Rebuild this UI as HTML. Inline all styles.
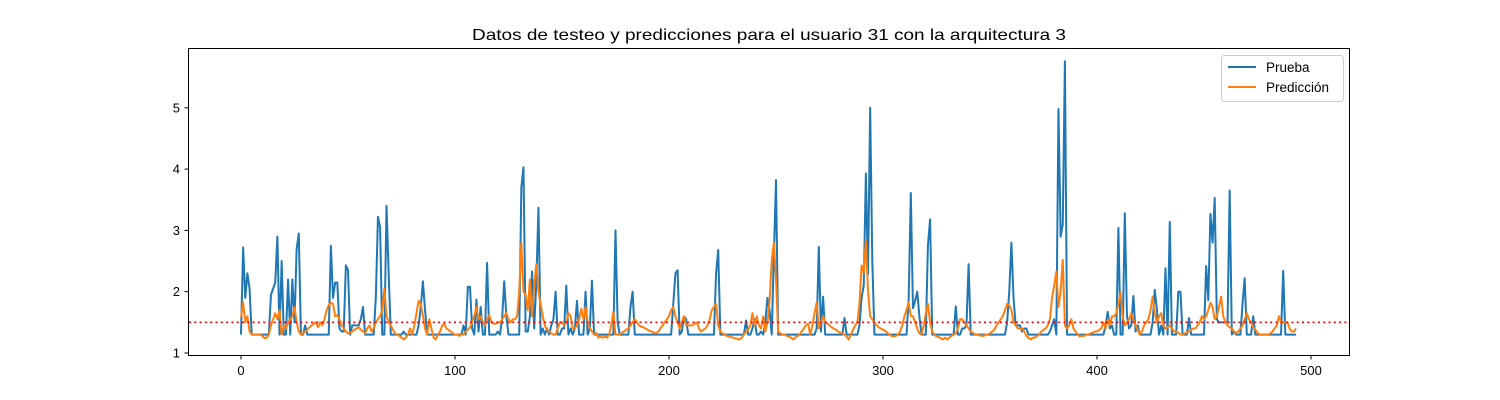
<!DOCTYPE html>
<html><head><meta charset="utf-8"><style>
body{margin:0;background:#fff;}
svg{display:block;font-family:"Liberation Sans","DejaVu Sans",sans-serif;}
</style></head><body>
<svg id="chart" width="1500" height="400" viewBox="0 0 1500 400">
<rect x="0" y="0" width="1500" height="400" fill="#fff"/>
<text x="769" y="40" text-anchor="middle" font-size="16" textLength="594" lengthAdjust="spacingAndGlyphs">Datos de testeo y predicciones para el usuario 31 con la arquitectura 3</text>
<g id="plot"></g>
<rect x="188.5" y="48.5" width="1161" height="307" fill="none" stroke="#000" stroke-width="1"/>
<g id="xticks"></g>
<g id="yticks"></g>
<g>
<rect x="1221.5" y="55.5" width="122" height="46" rx="3" fill="#fff" fill-opacity="0.8" stroke="#ccc"/>
<line x1="1228" y1="67" x2="1256" y2="67" stroke="#1f77b4" stroke-width="2"/>
<text x="1266" y="72" font-size="13.5">Prueba</text>
<line x1="1228" y1="87" x2="1256" y2="87" stroke="#ff7f0e" stroke-width="2"/>
<text x="1266" y="92" font-size="13.5">Predicción</text>
</g>
</svg>
<script>
const xTicks=[0,100,200,300,400,500];
const yTicks=[1,2,3,4,5];
const threshold=1.5;
const prueba=[
1.3,2.72,1.9,2.3,2.05,1.3,1.3,1.3,1.3,1.3,
1.3,1.3,1.3,1.3,1.95,2.05,2.15,2.9,1.3,2.5,
1.3,1.3,2.2,1.3,2.2,1.5,2.7,2.95,1.3,1.3,
1.45,1.3,1.3,1.3,1.3,1.3,1.3,1.3,1.3,1.3,
1.3,1.3,2.75,1.9,2.15,2.15,1.4,1.35,1.35,2.43,
2.35,1.3,1.45,1.45,1.45,1.45,1.55,1.75,1.3,1.3,
1.3,1.3,1.3,1.9,3.22,3.05,1.3,1.3,3.4,2.3,
1.3,1.3,1.3,1.3,1.3,1.3,1.35,1.3,1.3,1.3,
1.3,1.3,1.3,1.45,1.75,2.17,1.7,1.3,1.3,1.3,
1.3,1.3,1.3,1.3,1.3,1.3,1.3,1.3,1.3,1.3,
1.3,1.3,1.3,1.3,1.45,1.3,2.08,2.08,1.4,1.3,
1.87,1.35,1.75,1.3,1.3,2.47,1.3,1.3,1.3,1.3,
1.35,1.3,1.55,2.17,1.6,1.3,1.3,1.3,1.3,1.3,
1.3,3.7,4.03,1.35,1.35,1.6,2.33,1.4,2.15,3.37,
1.3,1.4,1.3,1.4,1.3,1.45,1.55,2.0,1.3,1.3,
1.4,1.4,2.1,1.3,1.4,1.3,1.4,1.85,1.3,1.3,
1.3,2.0,1.3,1.4,2.18,1.3,1.3,1.3,1.3,1.3,
1.3,1.3,1.3,1.3,1.3,3.0,1.5,1.3,1.3,1.3,
1.3,1.3,1.75,2.0,1.3,1.3,1.3,1.3,1.3,1.3,
1.3,1.3,1.3,1.3,1.3,1.3,1.3,1.3,1.3,1.3,
1.3,1.3,1.8,2.3,2.35,1.3,1.35,1.6,1.55,1.3,
1.3,1.3,1.3,1.3,1.3,1.3,1.3,1.3,1.3,1.3,
1.3,1.3,2.3,2.68,1.3,1.3,1.3,1.3,1.3,1.3,
1.3,1.3,1.3,1.3,1.3,1.3,1.53,1.3,1.3,1.4,
1.55,1.3,1.3,1.35,1.3,1.5,1.9,1.7,1.3,2.6,
3.82,1.3,1.3,1.3,1.3,1.3,1.3,1.3,1.3,1.3,
1.3,1.3,1.3,1.3,1.3,1.3,1.3,1.3,1.3,1.4,
2.73,1.35,1.92,1.3,1.3,1.3,1.3,1.3,1.3,1.3,
1.3,1.3,1.57,1.3,1.3,1.3,1.3,1.3,1.3,1.45,
1.9,2.1,3.93,2.28,5.0,2.5,1.3,1.3,1.3,1.3,
1.3,1.3,1.3,1.3,1.3,1.3,1.3,1.3,1.3,1.3,
1.3,1.3,1.9,3.61,1.73,1.85,2.0,1.6,1.3,1.3,
1.3,2.76,3.18,1.3,1.3,1.3,1.3,1.3,1.3,1.3,
1.3,1.3,1.3,1.3,1.76,1.3,1.3,1.4,1.4,1.45,
2.45,1.3,1.3,1.3,1.3,1.3,1.3,1.3,1.3,1.3,
1.3,1.3,1.3,1.3,1.3,1.3,1.3,1.3,1.5,2.0,
2.8,1.9,1.45,1.45,1.45,1.35,1.4,1.4,1.3,1.3,
1.3,1.3,1.3,1.3,1.3,1.3,1.3,1.3,1.35,1.45,
1.55,1.3,4.98,2.9,3.1,5.76,1.3,1.3,1.3,1.3,
1.3,1.3,1.3,1.3,1.3,1.3,1.3,1.3,1.3,1.3,
1.3,1.3,1.3,1.3,1.45,1.67,1.4,1.45,1.3,1.3,
3.04,1.3,1.3,3.28,1.6,1.4,1.45,1.93,1.35,1.45,
1.3,1.3,1.3,1.3,1.3,1.3,1.5,2.03,1.7,1.3,
1.45,1.3,2.38,1.3,3.14,1.3,1.3,1.3,2.0,2.0,
1.3,1.3,1.3,1.57,1.3,1.3,1.3,1.3,1.3,1.3,
1.3,2.42,1.86,3.27,2.8,3.53,1.55,1.5,1.5,1.5,
1.5,1.5,3.65,1.3,1.35,1.3,1.3,1.3,1.8,2.22,
1.3,1.3,1.3,1.6,1.3,1.3,1.3,1.3,1.3,1.3,
1.3,1.3,1.3,1.3,1.3,1.3,1.3,2.34,1.3,1.3,
1.3,1.3,1.3,1.3];
const prediccion=[
1.58,1.82,1.5,1.6,1.35,1.3,1.3,1.3,1.3,1.3,
1.28,1.24,1.25,1.3,1.45,1.55,1.65,1.55,1.7,1.3,
1.45,1.4,1.5,1.55,1.6,1.75,1.5,1.35,1.3,1.32,
1.35,1.38,1.42,1.45,1.48,1.5,1.42,1.5,1.45,1.55,
1.7,1.78,1.82,1.8,1.6,1.62,1.55,1.45,1.4,1.35,
1.32,1.33,1.35,1.38,1.4,1.42,1.38,1.35,1.32,1.4,
1.45,1.35,1.4,1.5,1.55,1.6,1.7,2.05,1.6,1.5,
1.45,1.38,1.32,1.3,1.28,1.25,1.22,1.25,1.3,1.4,
1.3,1.45,1.65,1.85,1.8,1.6,1.4,1.3,1.55,1.4,
1.25,1.22,1.3,1.35,1.45,1.48,1.4,1.38,1.35,1.32,
1.3,1.3,1.28,1.3,1.3,1.35,1.38,1.42,1.5,1.6,
1.75,1.55,1.6,1.5,1.45,1.55,1.62,1.5,1.48,1.48,
1.5,1.5,1.55,1.6,1.65,1.55,1.5,1.55,1.55,1.6,
2.0,2.8,2.0,1.95,1.7,2.2,1.6,2.1,2.45,2.0,
1.8,1.6,1.45,1.38,1.35,1.32,1.3,1.3,1.4,1.5,
1.5,1.45,1.5,1.65,1.6,1.4,1.4,1.45,1.55,1.72,
1.55,1.75,1.5,1.4,1.35,1.3,1.33,1.25,1.27,1.25,
1.27,1.25,1.3,1.45,1.67,1.3,1.3,1.3,1.33,1.35,
1.38,1.4,1.45,1.5,1.55,1.5,1.45,1.43,1.42,1.4,
1.38,1.36,1.35,1.33,1.32,1.35,1.4,1.45,1.5,1.55,
1.6,1.7,1.75,1.6,1.5,1.4,1.5,1.6,1.45,1.45,
1.45,1.45,1.48,1.5,1.4,1.35,1.38,1.4,1.45,1.55,
1.7,1.75,1.8,1.45,1.35,1.32,1.3,1.28,1.27,1.26,
1.25,1.24,1.23,1.22,1.25,1.3,1.35,1.38,1.45,1.65,
1.45,1.6,1.45,1.4,1.6,1.35,1.5,1.85,2.5,2.8,
2.2,1.35,1.32,1.3,1.3,1.28,1.27,1.25,1.22,1.25,
1.28,1.3,1.35,1.4,1.45,1.48,1.3,1.45,1.65,1.82,
1.4,1.5,1.6,1.5,1.48,1.45,1.42,1.4,1.38,1.35,
1.33,1.32,1.3,1.27,1.22,1.3,1.38,1.45,1.5,1.8,
2.43,2.3,2.83,2.0,1.6,1.55,1.5,1.45,1.42,1.4,
1.38,1.36,1.33,1.3,1.28,1.27,1.28,1.3,1.35,1.45,
1.6,1.7,1.83,1.6,1.6,1.5,1.4,1.32,1.3,1.45,
1.65,1.8,1.5,1.35,1.3,1.27,1.26,1.24,1.22,1.25,
1.22,1.25,1.28,1.3,1.32,1.4,1.55,1.55,1.5,1.45,
1.4,1.35,1.33,1.3,1.3,1.29,1.28,1.28,1.3,1.3,
1.32,1.35,1.38,1.45,1.5,1.55,1.6,1.7,1.8,1.78,
1.7,1.5,1.45,1.4,1.4,1.4,1.35,1.28,1.25,1.22,
1.25,1.25,1.28,1.3,1.35,1.38,1.4,1.45,1.55,1.9,
2.1,2.33,1.75,2.0,2.52,1.45,1.4,1.45,1.55,1.4,
1.35,1.3,1.27,1.28,1.28,1.3,1.3,1.32,1.33,1.35,
1.35,1.38,1.4,1.5,1.4,1.55,1.45,1.6,1.6,1.65,
1.8,2.0,1.6,1.45,1.5,1.55,1.65,1.55,1.45,1.38,
1.3,1.35,1.45,1.5,1.55,1.7,1.92,1.65,1.5,1.6,
1.65,1.45,1.4,1.42,1.45,1.4,1.35,1.35,1.33,1.3,
1.3,1.32,1.33,1.35,1.38,1.4,1.4,1.45,1.5,1.6,
1.55,1.6,1.7,1.82,1.75,1.55,1.6,1.75,1.92,1.6,
1.5,1.45,1.42,1.4,1.35,1.32,1.35,1.4,1.45,1.55,
1.65,1.55,1.5,1.42,1.38,1.33,1.3,1.3,1.3,1.3,
1.3,1.32,1.35,1.4,1.45,1.6,1.5,1.5,1.5,1.5,
1.4,1.35,1.35,1.4];

const NS="http://www.w3.org/2000/svg";
function xs(i){return 241+2.14*i;}
function ys(v){return 353-(v-1)*61.3;}
const plot=document.getElementById('plot');
function mk(tag,attrs,parent){const e=document.createElementNS(NS,tag);for(const k in attrs)e.setAttribute(k,attrs[k]);parent.appendChild(e);return e;}
function seriesPath(arr){return arr.map((v,i)=>(i?'L':'M')+xs(i).toFixed(2)+','+ys(v).toFixed(2)).join('');}

const p1=mk('path',{d:seriesPath(prueba),fill:'none',stroke:'#1f77b4','stroke-width':2,'stroke-linejoin':'round'},plot);


const p2=mk('path',{d:seriesPath(prediccion),fill:'none',stroke:'#ff7f0e','stroke-width':2,'stroke-linejoin':'round'},plot);


const th=mk('line',{x1:189,x2:1349,y1:ys(threshold),y2:ys(threshold),stroke:'#ff0000','stroke-width':1.6,'stroke-dasharray':'2,3.3'},plot);



const xg=document.getElementById('xticks');
xTicks.forEach(t=>{
  const l=mk('line',{x1:xs(t),x2:xs(t),y1:356,y2:359.5,stroke:'#000'},xg);
  
  
  const tx=mk('text',{x:xs(t),y:375,'text-anchor':'middle','font-size':13},xg);
  tx.textContent=t;
  
  
});
const yg=document.getElementById('yticks');
yTicks.forEach(t=>{
  const l=mk('line',{x1:184.5,x2:188,y1:ys(t),y2:ys(t),stroke:'#000'},yg);
  
  
  const tx=mk('text',{x:180,y:ys(t)+4.5,'text-anchor':'end','font-size':13},yg);
  tx.textContent=t;
  
  
});
</script>
</body></html>
